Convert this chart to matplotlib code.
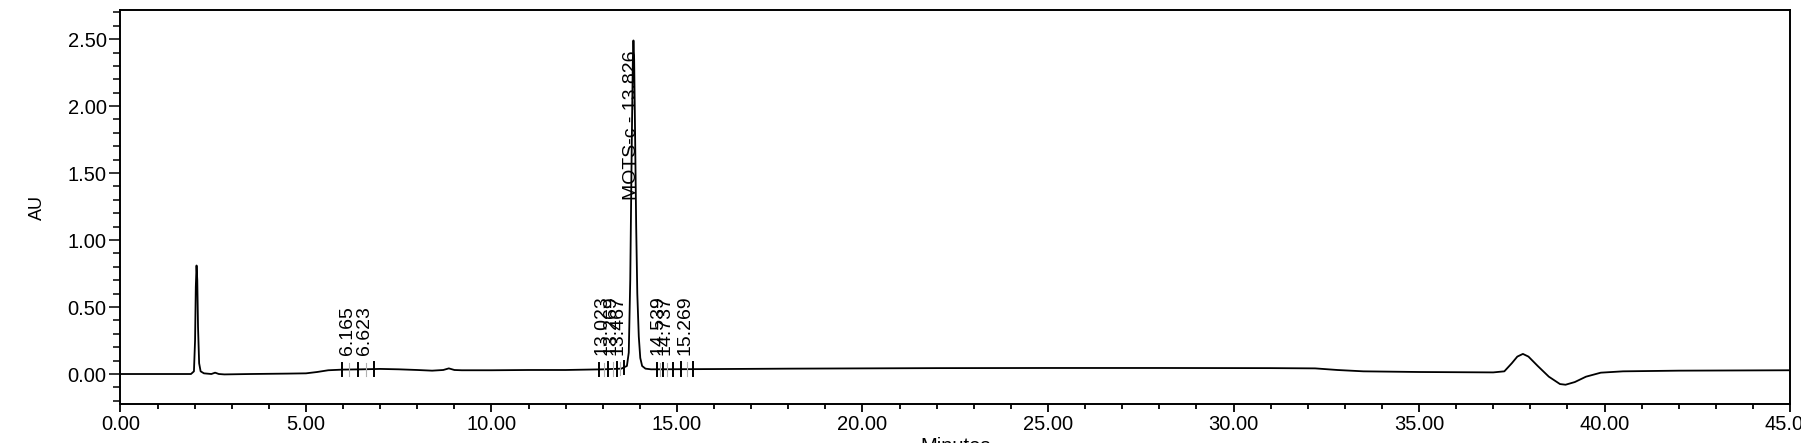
import matplotlib
matplotlib.use("Agg")
import matplotlib.pyplot as plt
from matplotlib.ticker import MultipleLocator, FormatStrFormatter

plt.rcParams['font.family'] = ['Liberation Sans', 'DejaVu Sans']

# chromatogram trace (minutes, AU)
time = [0.0, 1.90, 1.98, 2.01, 2.03, 2.05, 2.07, 2.09, 2.12, 2.16, 2.25, 2.45,
        2.55, 2.65, 2.8, 3.5, 4.5, 5.0, 5.3, 5.6, 6.0, 6.5, 7.0, 7.5, 8.0, 8.4,
        8.7, 8.85, 9.0, 9.2, 10.0, 11.0, 12.0, 13.0, 13.5, 13.65, 13.70, 13.74,
        13.78, 13.81, 13.826, 13.845, 13.87, 13.90, 13.93, 13.97, 14.01, 14.06,
        14.15, 14.3, 16.0, 18.0, 20.0, 22.0, 25.0, 28.0, 31.0, 32.2, 32.8, 33.5,
        35.0, 37.0, 37.3, 37.5, 37.65, 37.8, 37.95, 38.2, 38.5, 38.8, 38.95,
        39.2, 39.5, 39.9, 40.5, 42.0, 45.0]
absorb = [0.0, 0.0, 0.02, 0.25, 0.65, 0.81, 0.70, 0.35, 0.08, 0.02, 0.005, 0.0,
          0.01, 0.0, -0.003, 0.0, 0.003, 0.005, 0.015, 0.028, 0.033, 0.035, 0.038,
          0.035, 0.03, 0.025, 0.03, 0.042, 0.03, 0.028, 0.028, 0.03, 0.03, 0.035,
          0.04, 0.06, 0.16, 0.70, 1.70, 2.35, 2.49, 2.35, 1.80, 1.10, 0.60, 0.28,
          0.12, 0.06, 0.04, 0.035, 0.037, 0.04, 0.042, 0.044, 0.045, 0.045, 0.044,
          0.042, 0.03, 0.02, 0.015, 0.012, 0.02, 0.08, 0.13, 0.15, 0.13, 0.06,
          -0.02, -0.075, -0.08, -0.06, -0.02, 0.01, 0.02, 0.025, 0.028]

# small labelled peaks (retention times) and integration marks
peak_rt = [6.165, 6.623, 13.023, 13.269, 13.467, 14.539, 14.737, 15.269]
peak_lbl = ['6.165', '6.623', '13.023', '13.269', '13.467', '14.539', '14.737', '15.269']
bound_rt = [5.98, 6.40, 6.84, 12.90, 13.15, 13.38, 13.58,
            14.45, 14.62, 14.90, 15.10, 15.42]
main_rt = 13.826
main_lbl = 'MOTS-c - 13.826'

fig = plt.figure(figsize=(18.01, 4.43), dpi=100)
ax = fig.add_axes([0.0669, 0.088, 0.927, 0.889])

ax.plot(time, absorb, color='black', lw=1.3)

def base_at(t):
    for i in range(len(time) - 1):
        if time[i] <= t <= time[i + 1]:
            f = (t - time[i]) / (time[i + 1] - time[i])
            return absorb[i] + f * (absorb[i + 1] - absorb[i])
    return 0.0

for t in bound_rt:
    b = base_at(t)
    ax.plot([t, t], [b - 0.05, b + 0.05], color='black', lw=1.4)
for t, s in zip(peak_rt, peak_lbl):
    b = base_at(t)
    ax.plot([t, t], [b - 0.05, b + 0.05], color='#b0b0b0', lw=0.8)
    ax.text(t - 0.05, 0.14, s, rotation=90, ha='center', va='bottom', fontsize=14)

ax.text(main_rt - 0.06, 1.30, main_lbl, rotation=90, ha='center', va='bottom',
        fontsize=14)

ax.set_xlim(0, 45)
ax.set_ylim(-0.224, 2.716)
ax.xaxis.set_major_locator(MultipleLocator(5))
ax.xaxis.set_minor_locator(MultipleLocator(1))
ax.yaxis.set_major_locator(MultipleLocator(0.5))
ax.yaxis.set_minor_locator(MultipleLocator(0.1))
ax.xaxis.set_major_formatter(FormatStrFormatter('%.2f'))
ax.yaxis.set_major_formatter(FormatStrFormatter('%.2f'))

ax.tick_params(axis='x', which='major', direction='out', length=6, width=1.3,
               labelsize=14.5, pad=2)
ax.tick_params(axis='x', which='minor', direction='out', length=3.5, width=1.3)
ax.tick_params(axis='y', which='major', direction='out', length=8, width=1.1,
               labelsize=14.5, pad=2)
ax.tick_params(axis='y', which='minor', direction='out', length=5, width=1.1)
for sp in ax.spines.values():
    sp.set_linewidth(1.4)

ax.set_ylabel('AU', fontsize=13)
ax.yaxis.set_label_coords(-0.0446, 0.5)
ax.set_xlabel('Minutes', fontsize=14.5, va='top')
ax.xaxis.set_label_coords(0.5, -0.0838)

fig.savefig('out.png', dpi=100)
